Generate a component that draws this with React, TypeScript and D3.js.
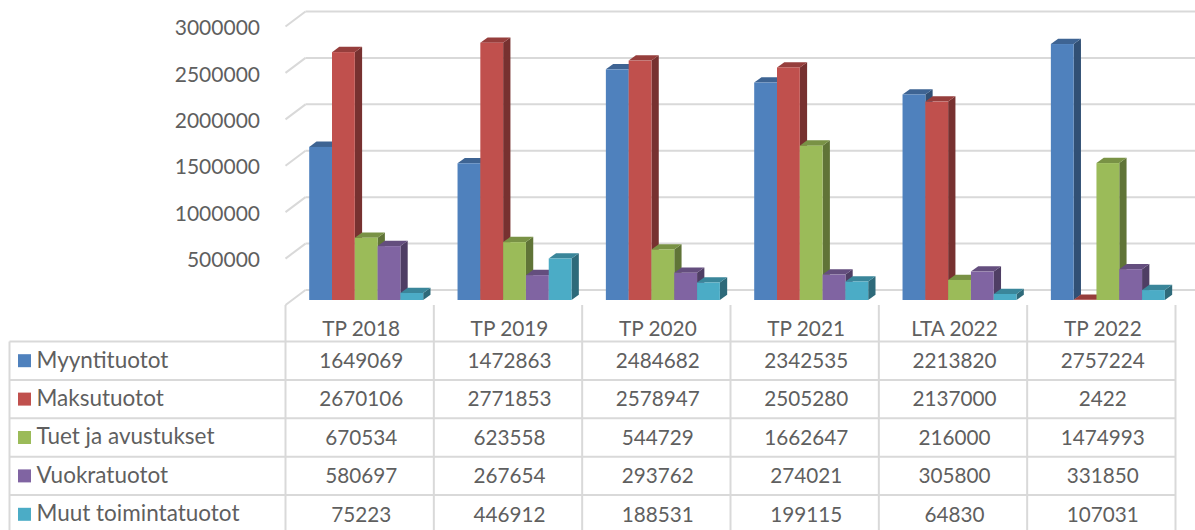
import * as d3 from "d3";

// Column and row labels
const PERIODS = ["TP 2018", "TP 2019", "TP 2020", "TP 2021", "LTA 2022", "TP 2022"];
const SERIES_NAMES = ["Myyntituotot", "Maksutuotot", "Tuet ja avustukset", "Vuokratuotot", "Muut toimintatuotot"];
const Y_TICKS = [500000, 1000000, 1500000, 2000000, 2500000, 3000000];
const WALL_TICKS = [0, 500000, 1000000, 1500000, 2000000, 2500000, 3000000];

const MYYNTITUOTOT = [1649069, 1472863, 2484682, 2342535, 2213820, 2757224];
const MAKSUTUOTOT = [2670106, 2771853, 2578947, 2505280, 2137000, 2422];
const TUET = [670534, 623558, 544729, 1662647, 216000, 1474993];
const VUOKRATUOTOT = [580697, 267654, 293762, 274021, 305800, 331850];
const MUUT = [75223, 446912, 188531, 199115, 64830, 107031];
const VALUES = [MYYNTITUOTOT, MAKSUTUOTOT, TUET, VUOKRATUOTOT, MUUT];

const FRONT = ["#4f81bd", "#c0504d", "#9bbb59", "#8064a2", "#4bacc6"];

const WIDTH = 1195;
const HEIGHT = 530;
const FONT = "Lato, sans-serif";
const TEXT = "#5f5f5f";
const GRID = "#d9d9d9";

const TABLE_LEFT = 9.5;
const TABLE_X0 = 285.5;
const TABLE_X1 = 1175.5;
const TABLE_TOP = 305;
const ROW_Y0 = 341.5;
const ROW_H = 38.4;

// 3D box offsets
const DEPTH_X = 7.3;
const DEPTH_Y = 5.3;
const WALL_DX = 20;
const WALL_DY = 15;
const BAR_DY = 10;

export default function App() {
  const wallY = d3.scaleLinear().domain([0, 3000000]).range([290, 11.5]);
  const barY = (v: number) => wallY(v) + BAR_DY;

  const col = d3.scaleBand<string>().domain(PERIODS).range([TABLE_X0, TABLE_X1]);
  const inner = d3.scaleBand<string>().domain(SERIES_NAMES).range([23.7, 137.7]);
  const barW = inner.bandwidth();
  const base = barY(0);
  const colMid = (p: string) => (col(p) ?? 0) + col.bandwidth() / 2 + 1.5;

  const rowLines = d3.range(SERIES_NAMES.length + 1).map((i) => ROW_Y0 + i * ROW_H);

  return (
    <svg
      width={WIDTH}
      height={HEIGHT}
      style={{ position: "absolute", left: 0, top: 0, background: "#fff" }}
      fontFamily={FONT}
    >
      {/* Back wall gridlines with their left-side diagonals */}
      {WALL_TICKS.map((t) => (
        <g key={t} stroke={GRID} strokeWidth={2} fill="none">
          <line x1={TABLE_X0 + WALL_DX} x2={WIDTH} y1={wallY(t)} y2={wallY(t)} />
          <line x1={TABLE_X0 + WALL_DX} x2={TABLE_X0} y1={wallY(t)} y2={wallY(t) + WALL_DY} />
        </g>
      ))}

      {/* Y labels */}
      {Y_TICKS.map((t) => (
        <text key={t} x={260} y={wallY(t) + WALL_DY + 1.3} dy="0.35em" textAnchor="end" fontSize={21} fill={TEXT}>
          {t}
        </text>
      ))}

      {/* Bars: later bars overlap the side face of the one before */}
      {PERIODS.map((p, pi) => (
        <g key={p}>
          {SERIES_NAMES.map((s, si) => {
            const v = VALUES[si][pi];
            const x = (col(p) ?? 0) + (inner(s) ?? 0);
            const y = barY(v);
            const front = d3.color(FRONT[si])!;
            return (
              <g key={s}>
                <path
                  d={`M${x + barW},${y}l${DEPTH_X},${-DEPTH_Y}V${base - DEPTH_Y}l${-DEPTH_X},${DEPTH_Y}Z`}
                  fill={front.darker(1.35).toString()}
                />
                <path
                  d={`M${x},${y}l${DEPTH_X},${-DEPTH_Y}h${barW}l${-DEPTH_X},${DEPTH_Y}Z`}
                  fill={front.darker(0.7).toString()}
                />
                <rect x={x} y={y} width={barW} height={base - y} fill={FRONT[si]} />
              </g>
            );
          })}
        </g>
      ))}

      {/* Data table grid */}
      <g stroke={GRID} strokeWidth={2}>
        {rowLines.map((y) => (
          <line key={y} x1={TABLE_LEFT} x2={TABLE_X1} y1={y} y2={y} />
        ))}
        <line x1={TABLE_LEFT} x2={TABLE_LEFT} y1={ROW_Y0} y2={HEIGHT} />
        {[...PERIODS.map((p) => col(p) ?? 0), TABLE_X1].map((x) => (
          <line key={x} x1={x} x2={x} y1={TABLE_TOP} y2={HEIGHT} />
        ))}
      </g>

      {/* Header row */}
      {PERIODS.map((p) => (
        <text
          key={p}
          x={colMid(p)}
          y={ROW_Y0 - ROW_H / 2 + 6}
          dy="0.35em"
          textAnchor="middle"
          fontSize={20.8}
          fill={TEXT}
        >
          {p}
        </text>
      ))}

      {/* Legend keys, names and values */}
      {SERIES_NAMES.map((s, si) => {
        const cy = ROW_Y0 + ROW_H * si + ROW_H / 2;
        return (
          <g key={s}>
            <rect x={18} y={cy - 6.5} width={13} height={13} fill={FRONT[si]} />
            <text x={36.5} y={cy - 1} dy="0.35em" fontSize={22.5} fill={TEXT}>
              {s}
            </text>
            {PERIODS.map((p, pi) => (
              <text key={p} x={colMid(p)} y={cy} dy="0.35em" textAnchor="middle" fontSize={20.7} fill={TEXT}>
                {VALUES[si][pi]}
              </text>
            ))}
          </g>
        );
      })}
    </svg>
  );
}
